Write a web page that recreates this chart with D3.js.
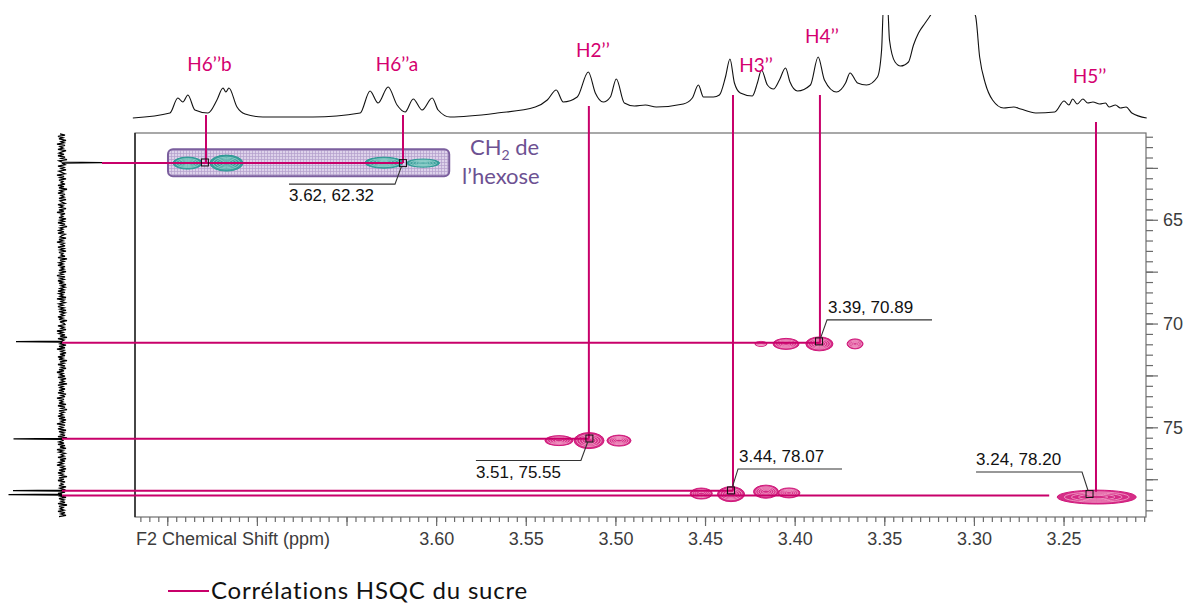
<!DOCTYPE html>
<html><head><meta charset="utf-8">
<script src="https://cdn.jsdelivr.net/npm/d3@7"></script>
<style>body{margin:0;background:#fff}svg{display:block}</style>
</head><body><svg id="c" width="1188" height="604"></svg>
<script>
// ---------- DATA ----------
// 1D 1H projection (top): [ppm, intensity]
const topSpectrum = [[3.7692,2],[3.7485,7],[3.7441,22],[3.7413,18],[3.7385,25],[3.7346,10],[3.7273,7],[3.7223,20],[3.7189,32],[3.7173,28],[3.7156,32],[3.7111,13],[3.7066,6],[3.6966,3],[3.6687,3],[3.6424,7],[3.6369,29],[3.6324,17],[3.6268,33],[3.6218,15],[3.6173,8],[3.6128,21],[3.6078,10],[3.6022,22],[3.5989,10],[3.5922,3],[3.5659,7],[3.5447,13],[3.5380,20],[3.5330,30],[3.5291,18],[3.5213,23],[3.5151,48],[3.5112,27],[3.5068,18],[3.5028,23],[3.4995,41],[3.4950,17],[3.4894,14],[3.4833,15],[3.4772,13],[3.4621,16],[3.4571,22],[3.4537,35],[3.4509,23],[3.4453,23],[3.4420,25],[3.4386,43],[3.4361,61],[3.4336,37],[3.4303,27],[3.4236,24],[3.4208,37],[3.4185,50],[3.4152,35],[3.4118,31],[3.4085,40],[3.4051,52],[3.4026,38],[3.3984,29],[3.3912,35],[3.3869,63],[3.3834,40],[3.3767,28],[3.3716,37],[3.3691,47],[3.3649,37],[3.3599,35],[3.3538,43],[3.3515,70],[3.3504,115],[3.3482,115],[3.3471,80],[3.3440,58],[3.3409,54],[3.3365,58],[3.3337,75],[3.3309,87],[3.3272,97],[3.3245,104],[3.3130,140],[3.2991,104],[3.2968,63],[3.2937,37],[3.2896,20],[3.2834,12],[3.2778,13],[3.2739,11],[3.2655,7],[3.2549,8],[3.2497,19],[3.2470,15],[3.2449,21],[3.2424,16],[3.2392,21],[3.2365,17],[3.2336,18],[3.2298,16],[3.2266,17],[3.2246,13],[3.2210,15],[3.2183,12],[3.2151,13],[3.2119,7],[3.2036,2]];

// 1D 13C projection (left): baseline noise samples and peaks
const projStart = 60.86, projEnd = 79.30;
const projNoise = [2,-3,4,-1,3,-4,1,-2,5,-3,2,-1,4,-4,0,3,-2,4,-3,1,-5,3,-1,2,-3,4,-2,1,-4,3,0,-3,5,-2,2,-4,3,-1,1,-3,4,-2,3,-5,2,-1,4,-3,1,-2,3,-4,2,0,-3,4,-1,2,-4,3,-2,5,-3,1,-1,3,-4,2,-2,4,-3,1,-5,2,-1,3,-2,4,-3,0,2,-4,3,-1,5,-2,1,-3,4,-2,2,-4,3,-1,1,-3,4,-5,2,-2,3,-1,4,-3,1,-2,3,-4,2,-1,5,-3,2,-2,4,-1,3,-4,1,-3,2,-2,4,-3,3,-1,2,-4,5,-2,1,-3,3,-1,4,-2,2,-4,3,-3,1,-2,4,-1,3,-5,2,-2,
  -3,4,-2,1,-4,5,-1,3,-3,2,-5,4,-2,3,-1,2,-4,3,-3,5,-2,1,-4,2,-3,4,-1,3,-5,2,-2,4,-3,1,-4,3,-2,5,-1,2,-3,4,-4,1,-2,3,-5,4,-1,2,-3,3,-2,4,-4,1,-3,5,-2,2,-1,3,-4,4,-3,1,-5,3,-2,2,-1,4,-3,3,-4,1,-2,5,-3,2,-1,4,-4,3,-2,1,-3,4,-5,2,-1,3,-2,4,-3,2,-4,5,-1,3,-3,1,-2,4,-4,2,-3,3,-1,5,-2,1,-4,3,-3,4,-1,2,-5,3,-2,4,-3,1,-1,3,-4,2,-2,5,-3,4,-1,2,-4,3,-2,1,-3,4,-5,3,-1,2,-2,4,-3,1,-4,3];
const projPeakC = [62.25, 70.87, 75.56, 78.05, 78.24];
const projPeakVal = [-40, 46, 48.5, 49, 53.5];

// Assignments (vertical lines from 1H spectrum)
const assignLabels = ["H6’’b", "H6’’a", "H2’’", "H3’’", "H4’’", "H5’’"];
const assignH = [3.7284, 3.6185, 3.5148, 3.4344, 3.3859, 3.2319];
const assignEndC = [62.27, 62.27, 75.55, 78.05, 70.93, 78.10];

// Horizontal correlation lines (from 13C projection)
const rowC = [62.27, 70.93, 75.55, 78.05, 78.29];
const rowEndH = [3.6185, 3.3859, 3.5148, 3.4344, 3.2580];
const rowProjVal = [-40, 46, 48.5, 49, 53.5];

// Peak picks (squares) and their labels
const pickH = [3.7290, 3.6185, 3.3864, 3.5145, 3.4355, 3.2355];
const pickC = [62.24, 62.27, 70.86, 75.54, 78.04, 78.21];
const pickText = ["", "3.62, 62.32", "3.39, 70.89", "3.51, 75.55", "3.44, 78.07", "3.24, 78.20"];

// Cross-peak contours: centre (h, c), width (ppm 1H), height (ppm 13C)
const pinkH = [3.4188, 3.4048, 3.3862, 3.3663, 3.5315, 3.5147, 3.4980, 3.4521, 3.4355, 3.4160, 3.4032, 3.2315];
const pinkC = [70.98, 70.98, 70.98, 70.98, 75.64, 75.64, 75.64, 78.19, 78.22, 78.10, 78.16, 78.36];
const pinkW = [0.0067, 0.0145, 0.0151, 0.0089, 0.0156, 0.0167, 0.0134, 0.0123, 0.0151, 0.0139, 0.0123, 0.0441];
const pinkHc = [0.24, 0.53, 0.67, 0.48, 0.48, 0.77, 0.53, 0.53, 0.72, 0.63, 0.48, 0.67];
const tealH = [3.7387, 3.7170, 3.6291, 3.6073];
const tealC = [62.27, 62.27, 62.25, 62.27];
const tealW = [0.0162, 0.0184, 0.0212, 0.0184];
const tealHc = [0.58, 0.77, 0.53, 0.39];

// CH2 highlight box (ppm ranges)
const boxH = [3.7496, 3.5927];
const boxC = [61.6, 62.9];

// Axes
const xMajorTicks = [3.75, 3.70, 3.65, 3.60, 3.55, 3.50, 3.45, 3.40, 3.35, 3.30, 3.25];
const xTickLabels = ["", "", "", "3.60", "3.55", "3.50", "3.45", "3.40", "3.35", "3.30", "3.25"];
const yMajorTicks = [62.5, 65, 67.5, 70, 72.5, 75, 77.5];
const yTickLabels = ["", "65", "", "70", "", "75", ""];
const xTitle = "F2 Chemical Shift (ppm)";
const legendText = "Corrélations HSQC du sucre";

// ---------- LAYOUT / STYLE ----------
const W = 1188, H = 604;
const P = {left: 135, right: 1146, top: 133, bottom: 517};
const PINK = "#c8006a", PINK_TXT = "#d4006f", PURPLE = "#6d5192";
const labelDx = [3.5, -6, 4, 23, 2, -6.5];
const labelY = [71, 71, 57, 72, 43, 83];
const lineTopY = [115, 115, 106, 95, 95, 122];
// leader offsets relative to square: elbow dx, dy, horizontal length, text dy from line
const leader = [null, [-8, 21, -106, 17], [8, -21.5, 105, -7], [-8.5, 22, -105, 17], [7, -21.5, 104, -7], [-7.5, -22, -106, -7]];

const svg = d3.select("#c");
svg.append("rect").attr("width", W).attr("height", H).attr("fill", "#fff");

const x = d3.scaleLinear().domain([3.768, 3.204]).range([P.left, P.right]);
const y = d3.scaleLinear().domain([60.82, 79.32]).range([P.top, P.bottom]);
const yTop = d3.scaleLinear().domain([0, 105]).range([120, 15]);
const xProj = d3.scaleLinear().domain([0, 50]).range([62, 12]);

const defs = svg.append("defs");
defs.append("clipPath").attr("id", "topclip").append("rect")
  .attr("x", 0).attr("y", 15).attr("width", W).attr("height", 125);
defs.append("clipPath").attr("id", "plotclip").append("rect")
  .attr("x", P.left).attr("y", P.top).attr("width", P.right - P.left).attr("height", P.bottom - P.top);
const pat = defs.append("pattern").attr("id", "grid").attr("width", 3).attr("height", 3)
  .attr("patternUnits", "userSpaceOnUse");
pat.append("rect").attr("width", 3).attr("height", 3).attr("fill", "#ddd2ea");
pat.append("path").attr("d", "M0 0.5H3M0.5 0V3").attr("stroke", "#b39fcc").attr("stroke-width", 0.7);

// ---------- TOP 1D SPECTRUM ----------
svg.append("path").datum(topSpectrum)
  .attr("clip-path", "url(#topclip)")
  .attr("d", d3.line().x(d => x(d[0])).y(d => yTop(d[1])).curve(d3.curveMonotoneX))
  .attr("fill", "none").attr("stroke", "#111").attr("stroke-width", 1.1);

// ---------- LEFT 1D PROJECTION ----------
const step = (projEnd - projStart) / (projNoise.length - 1);
let projPts = projNoise.map((v, i) => ({c: projStart + i * step, v: v}));
projPeakC.forEach((c, i) => {
  projPts = projPts.filter(p => Math.abs(p.c - c) > 0.04);
  projPts.push({c: c - 0.025, v: 0}, {c: c, v: projPeakVal[i]}, {c: c + 0.025, v: 0});
});
projPts.sort((a, b) => a.c - b.c);
svg.append("path").datum(projPts)
  .attr("d", d3.line().x(d => xProj(d.v)).y(d => y(d.c)))
  .attr("fill", "none").attr("stroke", "#000").attr("stroke-width", 1.3);

// ---------- FRAME & AXES ----------
svg.append("rect").attr("x", P.left).attr("y", P.top)
  .attr("width", P.right - P.left).attr("height", P.bottom - P.top)
  .attr("fill", "none").attr("stroke", "#6f6f6f").attr("stroke-width", 1.2);
svg.append("line").attr("x1", P.left).attr("x2", P.left).attr("y1", P.top).attr("y2", P.bottom)
  .attr("stroke", "#111").attr("stroke-width", 1.3);

const xMinor = d3.range(3.765, 3.2049, -0.005);
const axX = svg.append("g").attr("transform", `translate(0,${P.bottom})`);
axX.append("g").call(d3.axisBottom(x).tickValues(xMinor).tickSize(5).tickFormat(""));
const axXMaj = axX.append("g").call(d3.axisBottom(x).tickValues(xMajorTicks).tickSize(9)
  .tickFormat((d, i) => xTickLabels[i]));
axX.selectAll(".domain").remove();
axX.selectAll("line").attr("stroke", "#6a6a6a").attr("stroke-width", 1.2);
axXMaj.selectAll("text").attr("y", 28).attr("dy", 0)
  .attr("font-family", "'Liberation Sans', Arial, sans-serif").attr("font-size", 18).attr("fill", "#3c3c3c");
svg.append("text").attr("x", 136).attr("y", 545).text(xTitle)
  .attr("font-family", "'Liberation Sans', Arial, sans-serif").attr("font-size", 18).attr("fill", "#3c3c3c");

const yMinor = d3.range(61, 79.01, 0.5);
const axY = svg.append("g").attr("transform", `translate(${P.right},0)`);
axY.append("g").call(d3.axisRight(y).tickValues(yMinor).tickSize(7).tickFormat(""));
const axYMaj = axY.append("g").call(d3.axisRight(y).tickValues(yMajorTicks).tickSize(12)
  .tickFormat((d, i) => yTickLabels[i]));
axY.selectAll(".domain").remove();
axY.selectAll("line").attr("stroke", "#6a6a6a").attr("stroke-width", 1.2);
axYMaj.selectAll("text").attr("x", 17)
  .attr("font-family", "'Liberation Sans', Arial, sans-serif").attr("font-size", 18).attr("fill", "#3c3c3c");

// ---------- CH2 BOX ----------
svg.append("rect")
  .attr("x", x(boxH[0])).attr("y", y(boxC[0]))
  .attr("width", x(boxH[1]) - x(boxH[0])).attr("height", y(boxC[1]) - y(boxC[0]))
  .attr("rx", 5).attr("fill", "url(#grid)").attr("stroke", "#7b5f9e").attr("stroke-width", 2);
const ch2 = svg.append("text").attr("x", 470).attr("y", 155)
  .attr("font-family", "Lato, 'Open Sans', sans-serif").attr("font-size", 22).attr("fill", PURPLE);
ch2.append("tspan").text("CH");
ch2.append("tspan").text("2").attr("font-size", 14).attr("dy", 5);
ch2.append("tspan").text(" de").attr("dy", -5);
svg.append("text").attr("x", 462).attr("y", 184).text("l’hexose")
  .attr("font-family", "Lato, 'Open Sans', sans-serif").attr("font-size", 22).attr("fill", PURPLE);

// ---------- CONTOURS ----------
const cg = svg.append("g").attr("clip-path", "url(#plotclip)");
function blob(h, c, w, hc, fill, inner) {
  const cx = x(h), cy = y(c);
  const rx = Math.abs(x(h + w / 2) - cx), ry = Math.abs(y(c + hc / 2) - cy);
  const g = cg.append("g");
  g.append("ellipse").attr("cx", cx).attr("cy", cy).attr("rx", rx).attr("ry", ry)
    .attr("fill", fill).attr("fill-opacity", 0.9).attr("stroke", fill).attr("stroke-width", 1);
  [0.82, 0.64, 0.46, 0.28].forEach(k => {
    g.append("ellipse").attr("cx", cx).attr("cy", cy).attr("rx", rx * k).attr("ry", ry * k * 0.9)
      .attr("fill", "none").attr("stroke", inner).attr("stroke-width", 0.8);
  });
}
tealH.forEach((h, i) => blob(h, tealC[i], tealW[i], tealHc[i], "#2b9a94", "#9ad6d0"));
pinkH.forEach((h, i) => blob(h, pinkC[i], pinkW[i], pinkHc[i], "#d0167a", "#f4a9cd"));

// ---------- CORRELATION LINES ----------
rowC.forEach((c, i) => {
  svg.append("line").attr("x1", xProj(Math.min(0, rowProjVal[i]))).attr("x2", x(rowEndH[i]))
    .attr("y1", y(c)).attr("y2", y(c)).attr("stroke", PINK).attr("stroke-width", 2);
});
assignH.forEach((h, i) => {
  svg.append("line").attr("x1", x(h)).attr("x2", x(h))
    .attr("y1", lineTopY[i]).attr("y2", y(assignEndC[i])).attr("stroke", PINK).attr("stroke-width", 2);
  svg.append("text").attr("x", x(h) + labelDx[i]).attr("y", labelY[i]).attr("text-anchor", "middle")
    .text(assignLabels[i]).attr("font-family", "Lato, 'Open Sans', sans-serif")
    .attr("font-size", 19).attr("fill", PINK_TXT);
});

// ---------- PEAK PICKS ----------
pickH.forEach((h, i) => {
  const px = x(h), py = y(pickC[i]);
  svg.append("rect").attr("x", px - 3.5).attr("y", py - 3.5).attr("width", 7).attr("height", 7)
    .attr("fill", "none").attr("stroke", "#111").attr("stroke-width", 1);
  const L = leader[i];
  if (!L) return;
  const ex = px + L[0], ey = py + L[1];
  const sy = py + (L[1] > 0 ? 3.5 : -3.5);
  svg.append("path").attr("d", `M${px + L[0] * 0.2},${sy}L${ex},${ey}L${ex + L[2]},${ey}`)
    .attr("fill", "none").attr("stroke", "#333").attr("stroke-width", 1.1);
  svg.append("text").attr("x", Math.min(ex, ex + L[2]) + (L[2] > 0 ? 1 : 0)).attr("y", ey + L[3])
    .text(pickText[i]).attr("font-family", "'Liberation Sans', Arial, sans-serif")
    .attr("font-size", 17).attr("fill", "#111");
});

// ---------- LEGEND ----------
svg.append("line").attr("x1", 168).attr("x2", 209).attr("y1", 591).attr("y2", 591)
  .attr("stroke", PINK).attr("stroke-width", 2);
svg.append("text").attr("x", 211).attr("y", 599).text(legendText)
  .attr("font-family", "Lato, 'Open Sans', sans-serif").attr("font-size", 24)
  .attr("letter-spacing", 0.8).attr("fill", "#111");
</script>
</body></html>
